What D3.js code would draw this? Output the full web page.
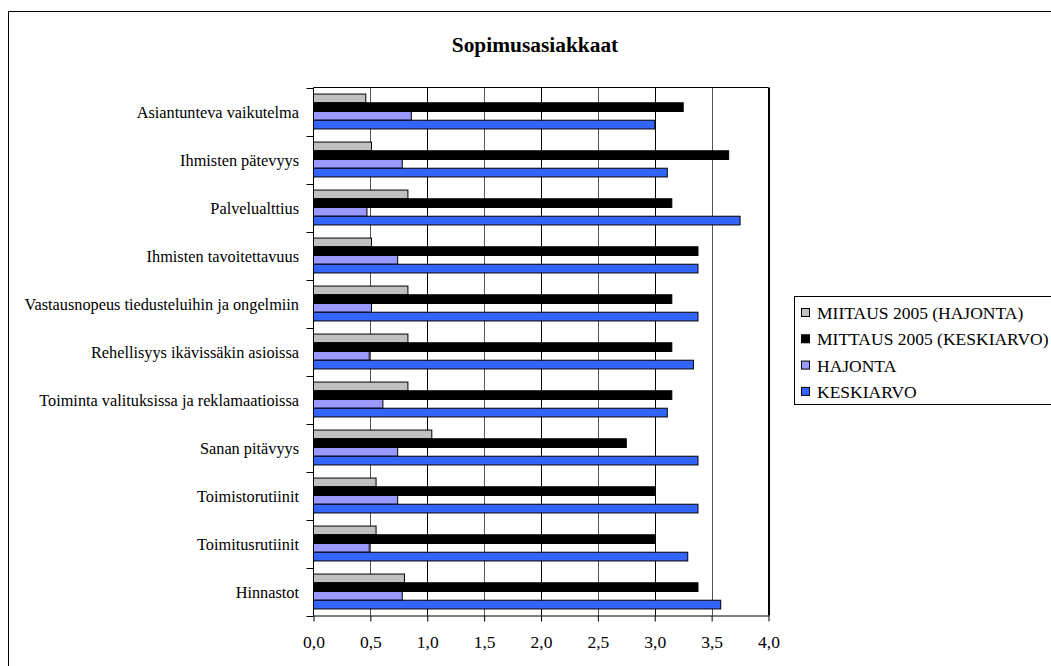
<!DOCTYPE html>
<html>
<head>
<meta charset="utf-8">
<script src="https://cdn.jsdelivr.net/npm/d3@7"></script>
<style>
  html, body { margin: 0; padding: 0; background: #fff; }
  svg { display: block; }
</style>
</head>
<body>
<svg id="chart" width="1051" height="666"></svg>
<script>
// Categories, top to bottom
const categories = [
  "Asiantunteva vaikutelma",
  "Ihmisten pätevyys",
  "Palvelualttius",
  "Ihmisten tavoitettavuus",
  "Vastausnopeus tiedusteluihin ja ongelmiin",
  "Rehellisyys ikävissäkin asioissa",
  "Toiminta valituksissa ja reklamaatioissa",
  "Sanan pitävyys",
  "Toimistorutiinit",
  "Toimitusrutiinit",
  "Hinnastot"
];

// Series names (legend order, also top-to-bottom order inside each group)
const seriesNames = [
  "MIITAUS 2005 (HAJONTA)",
  "MITTAUS 2005 (KESKIARVO)",
  "HAJONTA",
  "KESKIARVO"
];
const seriesColors = ["#C0C0C0", "#000000", "#9999FF", "#3366FF"];

// Series values, one per category
const mittaus2005Hajonta    = [0.46, 0.51, 0.83, 0.51, 0.83, 0.83, 0.83, 1.04, 0.55, 0.55, 0.80];
const mittaus2005Keskiarvo  = [3.25, 3.65, 3.15, 3.38, 3.15, 3.15, 3.15, 2.75, 3.00, 3.00, 3.38];
const hajonta               = [0.86, 0.78, 0.47, 0.74, 0.51, 0.49, 0.61, 0.74, 0.74, 0.49, 0.78];
const keskiarvo             = [3.00, 3.11, 3.75, 3.38, 3.38, 3.34, 3.11, 3.38, 3.38, 3.29, 3.58];

// Axis ticks
const xTicks = [0, 0.5, 1, 1.5, 2, 2.5, 3, 3.5, 4];
const xTickLabels = ["0,0", "0,5", "1,0", "1,5", "2,0", "2,5", "3,0", "3,5", "4,0"];
const chartTitle = "Sopimusasiakkaat";

const seriesValues = [mittaus2005Hajonta, mittaus2005Keskiarvo, hajonta, keskiarvo];

const FONT = "Liberation Serif";

const svg = d3.select("#chart");

// Chart area frame
svg.append("rect")
  .attr("x", 8.5).attr("y", 11.5)
  .attr("width", 1200).attr("height", 800)
  .attr("fill", "#fff")
  .attr("stroke", "#000").attr("stroke-width", 1);

// Plot area
const plot = { left: 313.5, right: 768.5, top: 87.5, bottom: 615.5 };

const x = d3.scaleLinear().domain([0, 4]).range([plot.left, plot.right]);
const y = d3.scaleBand().domain(categories).range([plot.top, plot.bottom]).padding(0);
const ySeries = d3.scaleBand().domain(seriesNames)
  .range([0, y.bandwidth()]).paddingInner(0).paddingOuter(0.75);

const g = svg.append("g");

// Plot background
g.append("rect")
  .attr("x", plot.left).attr("y", plot.top)
  .attr("width", plot.right - plot.left).attr("height", plot.bottom - plot.top)
  .attr("fill", "#fff");

// Vertical gridlines
g.selectAll("line.grid")
  .data(xTicks.slice(1))
  .join("line")
  .attr("class", "grid")
  .attr("x1", d => Math.round(x(d)) + 0.5).attr("x2", d => Math.round(x(d)) + 0.5)
  .attr("y1", plot.top).attr("y2", plot.bottom)
  .attr("stroke", (d, i) => i % 2 === 0 ? "#555" : "#000")
  .attr("stroke-width", 1);

// Bars
const rows = [];
categories.forEach((c, ci) => {
  seriesNames.forEach((s, si) => {
    rows.push({ cat: c, series: s, value: seriesValues[si][ci], color: seriesColors[si] });
  });
});

g.selectAll("rect.bar")
  .data(rows)
  .join("rect")
  .attr("class", "bar")
  .attr("x", x(0))
  .attr("y", d => y(d.cat) + ySeries(d.series))
  .attr("width", d => x(d.value) - x(0))
  .attr("height", ySeries.bandwidth())
  .attr("fill", d => d.color)
  .attr("stroke", "#000")
  .attr("stroke-width", 1);

// Plot border (top and right)
g.append("path")
  .attr("d", `M${plot.left},${plot.top}H${plot.right}V${plot.bottom}`)
  .attr("fill", "none").attr("stroke", "#000").attr("stroke-width", 1);

// X axis
const xAxis = d3.axisBottom(x)
  .tickValues(xTicks)
  .tickFormat((d, i) => xTickLabels[i])
  .tickSizeInner(6).tickSizeOuter(0).tickPadding(14);

const xAxisG = svg.append("g")
  .attr("transform", `translate(0,${plot.bottom})`)
  .call(xAxis)
  .attr("font-family", FONT)
  .attr("font-size", 17.5);
xAxisG.select(".domain").attr("stroke", "#000");
xAxisG.selectAll(".tick line").attr("stroke", "#000");
xAxisG.selectAll(".tick text")
  .attr("font-family", FONT)
  .attr("font-size", 17.5)
  .attr("fill", "#000");

// Y axis: category boundary ticks and labels
const yAxisG = svg.append("g");
yAxisG.append("line")
  .attr("x1", plot.left).attr("x2", plot.left)
  .attr("y1", plot.top).attr("y2", plot.bottom)
  .attr("stroke", "#000");

const boundaries = categories.map(c => y(c)).concat([plot.bottom]);
yAxisG.selectAll("line.ytick")
  .data(boundaries)
  .join("line")
  .attr("class", "ytick")
  .attr("x1", plot.left - 7).attr("x2", plot.left)
  .attr("y1", d => Math.round(d) + 0.5).attr("y2", d => Math.round(d) + 0.5)
  .attr("stroke", "#000");

yAxisG.selectAll("text.ylabel")
  .data(categories)
  .join("text")
  .attr("class", "ylabel")
  .attr("x", 299)
  .attr("y", d => y(d) + y.bandwidth() / 2)
  .attr("dy", "0.4em")
  .attr("text-anchor", "end")
  .attr("font-family", FONT)
  .attr("font-size", 16.3)
  .attr("fill", "#000")
  .text(d => d);

// Title
svg.append("text")
  .attr("x", 535)
  .attr("y", 52)
  .attr("text-anchor", "middle")
  .attr("font-family", FONT)
  .attr("font-size", 21.4)
  .attr("font-weight", "bold")
  .attr("fill", "#000")
  .text(chartTitle);

// Legend
const legend = svg.append("g");
legend.append("rect")
  .attr("x", 794.5).attr("y", 296.5)
  .attr("width", 400).attr("height", 108)
  .attr("fill", "#fff").attr("stroke", "#000").attr("stroke-width", 1);

const legendRows = legend.selectAll("g.item")
  .data(seriesNames)
  .join("g")
  .attr("class", "item")
  .attr("transform", (d, i) => `translate(0,${313 + i * 26.3})`);

legendRows.append("rect")
  .attr("x", 801.5).attr("y", -4.5)
  .attr("width", 8).attr("height", 8)
  .attr("fill", (d, i) => seriesColors[i])
  .attr("stroke", "#000").attr("stroke-width", 1);

legendRows.append("text")
  .attr("x", 817)
  .attr("y", 0)
  .attr("dy", "0.35em")
  .attr("font-family", FONT)
  .attr("font-size", 17.5)
  .attr("fill", "#000")
  .text(d => d);
</script>
</body>
</html>
